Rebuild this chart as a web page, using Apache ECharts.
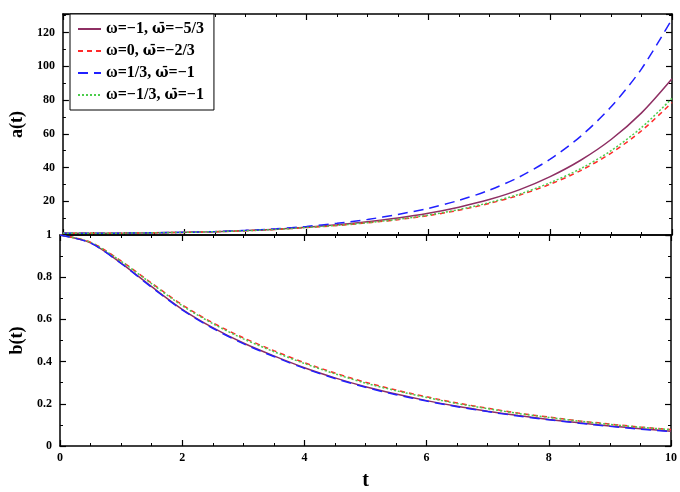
<!DOCTYPE html>
<html>
<head>
<meta charset="utf-8">
<script src="https://cdn.jsdelivr.net/npm/echarts@6/dist/echarts.min.js"></script>
<style>
  html, body { margin: 0; padding: 0; background: #fff; }
  #chart { width: 680px; height: 492px; }
</style>
</head>
<body>
<div id="chart"></div>
<script>
// time samples
const tValues = [0, 0.5, 1, 1.5, 2, 2.5, 3, 3.5, 4, 4.5, 5, 5.5, 6, 6.5, 7, 7.5, 8, 8.5, 9, 9.5, 10];

// legend names
const seriesNames = ['ω=−1, ω̄=−5/3', 'ω=0, ω̄=−2/3', 'ω=1/3, ω̄=−1', 'ω=−1/3, ω̄=−1'];

// a(t), top panel
const aPurple = [1, 1.03, 1.12, 1.3, 1.58, 2.0, 2.6, 3.45, 4.6, 6.1, 7.9, 10.1, 12.9, 16.5, 21.0, 26.9, 34.6, 44.3, 56.6, 72.4, 92.6];
const aRed = [1, 1.03, 1.11, 1.28, 1.55, 1.95, 2.5, 3.3, 4.4, 5.6, 7.2, 9.1, 11.5, 14.7, 18.7, 23.7, 30.1, 38.2, 48.5, 61.8, 78.5];
const aBlue = [1, 1.03, 1.12, 1.32, 1.62, 2.08, 2.75, 3.7, 5.1, 6.9, 9.2, 12.2, 15.8, 20.5, 26.6, 34.5, 45, 58.5, 76, 98.5, 128];
const aGreen = [1, 1.03, 1.11, 1.28, 1.56, 1.96, 2.52, 3.33, 4.45, 5.7, 7.3, 9.3, 11.8, 15.1, 19.2, 24.3, 31, 39.3, 50, 63.7, 81];

// b(t), bottom panel
const bPurple = [1.0, 0.963, 0.867, 0.755, 0.648, 0.561, 0.488, 0.427, 0.371, 0.323, 0.281, 0.246, 0.215, 0.188, 0.165, 0.144, 0.126, 0.11, 0.095, 0.082, 0.07];
const bRed = [1.0, 0.966, 0.877, 0.772, 0.669, 0.584, 0.513, 0.452, 0.395, 0.346, 0.302, 0.265, 0.233, 0.204, 0.179, 0.156, 0.137, 0.119, 0.104, 0.09, 0.078];
const bBlue = [1.0, 0.962, 0.865, 0.752, 0.645, 0.558, 0.485, 0.424, 0.368, 0.32, 0.278, 0.243, 0.213, 0.186, 0.163, 0.142, 0.124, 0.108, 0.093, 0.08, 0.068];
const bGreen = [1.0, 0.965, 0.875, 0.769, 0.665, 0.58, 0.508, 0.447, 0.391, 0.342, 0.298, 0.262, 0.23, 0.201, 0.177, 0.154, 0.135, 0.118, 0.102, 0.089, 0.077];

// x tick labels
const xTicks = [0, 2, 4, 6, 8, 10];

const FONT = '"Liberation Serif", "DejaVu Serif", serif';
const lineStyles = [
    { color: '#8e2f63', width: 1.5, type: 'solid' },
    { color: '#ff2a2a', width: 1.5, type: [5, 4] },
    { color: '#2020ff', width: 1.5, type: [10, 6] },
    { color: '#4ccc4c', width: 1.5, type: [2, 2] }
];

function pairs(ys) {
    return tValues.map((t, i) => [t, ys[i]]);
}

function xAxisFor(gridIndex, showLabels, position) {
    return {
        type: 'value', gridIndex: gridIndex, position: position,
        min: 0, max: 10, interval: 2,
        axisLine: { show: true, onZero: false, lineStyle: { color: '#000', width: 1.5 } },
        axisTick: { show: true, inside: true, length: 6, lineStyle: { color: '#000', width: 1.2 } },
        minorTick: { show: true, splitNumber: 4, length: 3, lineStyle: { color: '#000', width: 1 } },
        axisLabel: {
            show: showLabels, color: '#000', fontFamily: FONT, fontWeight: 'bold', fontSize: 12, margin: 6,
            formatter: v => xTicks.includes(v) ? String(v) : ''
        },
        splitLine: { show: false }
    };
}

function yAxisFor(gridIndex, position, showLabels, cfg) {
    return Object.assign({
        type: 'value', gridIndex: gridIndex, position: position,
        axisLine: { show: true, onZero: false, lineStyle: { color: '#000', width: 1.5 } },
        axisTick: { show: true, inside: true, length: 6, lineStyle: { color: '#000', width: 1.2 } },
        minorTick: { show: true, splitNumber: 2, length: 3, lineStyle: { color: '#000', width: 1 } },
        axisLabel: { show: showLabels, color: '#000', fontFamily: FONT, fontWeight: 'bold', fontSize: 12, margin: 8 },
        splitLine: { show: false }
    }, cfg);
}

// the barred omega is split out so that it can use a font with proper mark placement
function legendLabel(name) {
    return name.split('ω̄').join('{o|ω̄}');
}

const chart = echarts.init(document.getElementById('chart'), null, { renderer: 'canvas' });

const aData = [aPurple, aRed, aBlue, aGreen];
const bData = [bPurple, bRed, bBlue, bGreen];
const series = [];
aData.forEach((ys, i) => {
    series.push({
        name: seriesNames[i], type: 'line', xAxisIndex: 0, yAxisIndex: 0,
        data: pairs(ys), symbol: 'none', smooth: 0.3, lineStyle: lineStyles[i],
        itemStyle: { color: lineStyles[i].color }, z: 2 + i
    });
});
bData.forEach((ys, i) => {
    series.push({
        name: seriesNames[i], type: 'line', xAxisIndex: 2, yAxisIndex: 2,
        data: pairs(ys), symbol: 'none', smooth: 0.3, lineStyle: lineStyles[i],
        itemStyle: { color: lineStyles[i].color }, z: 2 + (i === 2 ? 5 : i)
    });
});

const option = {
    animation: false,
    backgroundColor: '#fff',
    grid: [
        { left: 57, top: 14, width: 615, height: 221 },
        { left: 57, top: 235, width: 615, height: 220 }
    ],
    xAxis: [
        xAxisFor(0, false, 'bottom'),
        xAxisFor(0, false, 'top'),
        Object.assign(xAxisFor(1, true, 'bottom'), {
            name: 't', nameLocation: 'middle', nameGap: 25,
            nameTextStyle: { color: '#000', fontFamily: FONT, fontWeight: 'bold', fontSize: 20 }
        }),
        xAxisFor(1, false, 'top')
    ],
    yAxis: [
        yAxisFor(0, 'left', true, {
            min: 0, max: 131, interval: 20,
            axisLabel: {
                show: true, color: '#000', fontFamily: FONT, fontWeight: 'bold', fontSize: 12, margin: 8,
                showMinLabel: false, showMaxLabel: false
            },
            name: 'a(t)', nameLocation: 'middle', nameGap: 34, nameRotate: 90,
            nameTextStyle: { color: '#000', fontFamily: FONT, fontWeight: 'bold', fontSize: 18 }
        }),
        yAxisFor(0, 'right', false, { min: 0, max: 131, interval: 20 }),
        yAxisFor(1, 'left', true, {
            min: 0, max: 1, interval: 0.2,
            name: 'b(t)', nameLocation: 'middle', nameGap: 34, nameRotate: 90,
            nameTextStyle: { color: '#000', fontFamily: FONT, fontWeight: 'bold', fontSize: 18 }
        }),
        yAxisFor(1, 'right', false, { min: 0, max: 1, interval: 0.2 })
    ],
    legend: {
        data: seriesNames,
        orient: 'vertical',
        left: 70, top: 14,
        padding: [7, 10, 7, 7],
        itemGap: 6,
        itemWidth: 23, itemHeight: 14,
        icon: 'inherit',
        itemStyle: { opacity: 0 },
        backgroundColor: '#fff',
        borderColor: '#000', borderWidth: 1,
        formatter: legendLabel,
        textStyle: {
            color: '#000', fontFamily: FONT, fontWeight: 'bold', fontSize: 16,
            rich: {
                o: { fontFamily: '"DejaVu Serif", serif', fontWeight: 'bold', fontSize: 14, color: '#000' }
            }
        }
    },
    series: series
};

chart.setOption(option);
</script>
</body>
</html>
